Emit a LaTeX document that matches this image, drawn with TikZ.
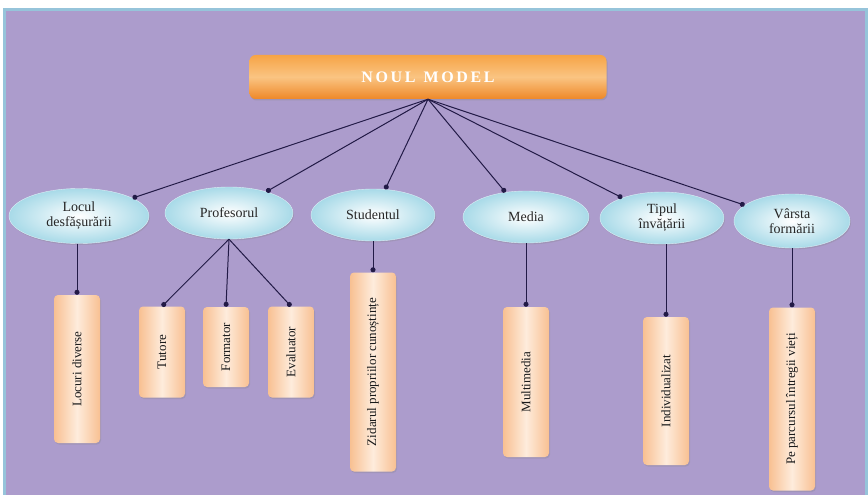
\documentclass[tikz,border=0pt]{standalone}
\usepackage{fontspec}
\setmainfont{Liberation Serif}
\usepackage{tikz}
\usetikzlibrary{shapes,arrows.meta,positioning,calc,shadows}
\usepackage{xcolor}
\definecolor{bgpurple}{RGB}{172,156,204}
\definecolor{framecol}{RGB}{150,196,218}
\definecolor{linecol}{RGB}{34,26,70}
\definecolor{ovalfill}{RGB}{168,218,232}
\definecolor{peach}{RGB}{248,192,146}
\definecolor{peachlight}{RGB}{254,236,220}
\definecolor{orangetop}{RGB}{246,164,70}
\definecolor{orangemid}{RGB}{250,196,130}
\definecolor{orangebot}{RGB}{238,136,40}

\begin{document}
\begin{tikzpicture}[
    x=1pt, y=-1pt,
    oval/.style={ellipse, draw=white!60!ovalfill, inner color=white, outer color=ovalfill,
        minimum width=126, minimum height=52, inner sep=0, align=center,
        font=\fontsize{14}{15}\selectfont, text=black!85,
        drop shadow={opacity=0.25, shadow xshift=1pt, shadow yshift=-1.5pt}},
    leaf/.style={rectangle, rounded corners=4, left color=peach, right color=peach,
        middle color=peachlight, minimum width=46, inner sep=0,
        font=\fontsize{13}{15}\selectfont, text=black!90,
        drop shadow={opacity=0.25, shadow xshift=1pt, shadow yshift=-1.5pt}},
    link/.style={draw=linecol, line width=1pt, -{Circle[length=5pt]}}
]
    \useasboundingbox (0,0) rectangle (868,495);
    % Background frame
    \draw[framecol, line width=3pt, fill=bgpurple] (4,9.5) rectangle (866,496);

    % Title
    \node[rectangle, rounded corners=6, top color=orangetop, bottom color=orangebot,
        middle color=orangemid, minimum width=357, minimum height=44,
        font=\fontsize{16}{18}\selectfont\bfseries, text=white,
        drop shadow={opacity=0.3, shadow xshift=1pt, shadow yshift=-1.5pt}]
        (model) at (428,77) {N\,O\,U\,L\ \ M\,O\,D\,E\,L};

    % Categories
    \node[oval, minimum width=140, minimum height=55] (loc) at (79,216) {Locul\\desfășurării};
    \node[oval, minimum width=128] (prof) at (229,213) {Profesorul};
    \node[oval, minimum width=124] (stud) at (373,215) {Studentul};
    \node[oval, minimum width=126] (media) at (526,217) {Media};
    \node[oval, minimum width=124] (tip) at (662,218) {Tipul\\învățării};
    \node[oval, minimum width=116, minimum height=54] (varsta) at (792,221) {Vârsta\\formării};

    % Leaves
    \node[leaf, minimum height=148] (locuri) at (77,369) {\rotatebox{90}{Locuri diverse}};
    \node[leaf, minimum height=91] (tutore) at (162,352) {\rotatebox{90}{Tutore}};
    \node[leaf, minimum height=80] (formator) at (226,347) {\rotatebox{90}{Formator}};
    \node[leaf, minimum height=91] (evaluator) at (291,352) {\rotatebox{90}{Evaluator}};
    \node[leaf, minimum height=199] (zidar) at (373,372) {\rotatebox{90}{Zidarul propriilor cunoștințe}};
    \node[leaf, minimum height=150] (multi) at (526,382) {\rotatebox{90}{Multimedia}};
    \node[leaf, minimum height=148] (indiv) at (666,391) {\rotatebox{90}{Individualizat}};
    \node[leaf, minimum height=183] (viata) at (792,399) {\rotatebox{90}{Pe parcursul întregii vieți}};

    % Title to categories
    \foreach \c in {loc,prof,stud,media,tip,varsta}
        \draw[link] (model.south) -- (\c);

    % Categories to leaves
    \draw[link] (loc.south -| locuri.north) -- (locuri.north);
    \draw[link] (prof.south) -- (tutore.north);
    \draw[link] (prof.south) -- (formator.north);
    \draw[link] (prof.south) -- (evaluator.north);
    \draw[link] (stud.south) -- (zidar.north);
    \draw[link] (media.south) -- (multi.north);
    \draw[link] (tip.south -| indiv.north) -- (indiv.north);
    \draw[link] (varsta.south) -- (viata.north);
\end{tikzpicture}
\end{document}
